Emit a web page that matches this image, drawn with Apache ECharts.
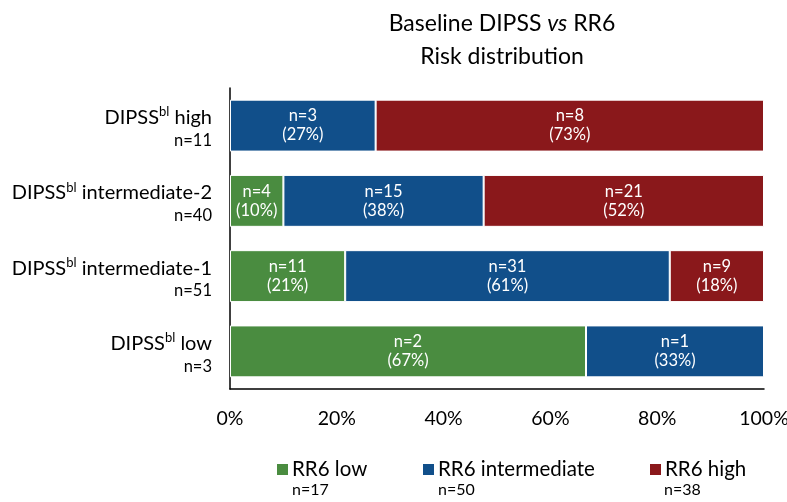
<!DOCTYPE html>
<html><head><meta charset="utf-8">
<script src="https://cdn.jsdelivr.net/npm/echarts@6/dist/echarts.min.js"></script>
<style>html,body{margin:0;padding:0;background:#fff}#c{width:787px;height:502px}</style>
</head><body><div id="c"></div>
<script>
// categories bottom -> top
const catNames = ['low', 'intermediate-1', 'intermediate-2', 'high'];
const catTotals = [3, 51, 40, 11];
const seriesNames = ['RR6 low', 'RR6 intermediate', 'RR6 high'];
const seriesTotals = [17, 50, 38];
const lowCounts = [2, 11, 4, 0];
const intCounts = [1, 31, 15, 3];
const highCounts = [0, 9, 21, 8];
const pctLabels = [
  [67, 21, 10, null],
  [33, 61, 38, 27],
  [null, 18, 52, 73]
];
const xTicks = [0, 20, 40, 60, 80, 100];
const colors = ['#4a8c40', '#114f8a', '#8a181b'];

const FONT = 'Lato';
const countsAll = [lowCounts, intCounts, highCounts];

function buildSeries(si) {
  const counts = countsAll[si];
  return {
    name: seriesNames[si],
    type: 'bar',
    stack: 'all',
    barCategoryGap: '31%',
    itemStyle: { color: colors[si], borderColor: '#ffffff', borderWidth: 1 },
    label: {
      show: true,
      position: 'inside',
      color: '#ffffff',
      fontFamily: FONT,
      fontSize: 16.5,
      lineHeight: 19,
      formatter: p => 'n=' + counts[p.dataIndex] + '\n(' + pctLabels[si][p.dataIndex] + '%)'
    },
    data: counts.map((c, i) => c === 0 ? null : c / catTotals[i] * 100)
  };
}

const chart = echarts.init(document.getElementById('c'));
chart.setOption({
  backgroundColor: '#ffffff',
  animation: false,
  title: {
    left: 497, top: 2, textAlign: 'center',
    text: '{a|Baseline DIPSS }{i|vs}{a| RR6}\n{a|Risk distribution}',
    textStyle: {
      rich: {
        a: { fontFamily: FONT, fontSize: 23, fontWeight: 'normal', color: '#000', lineHeight: 33 },
        i: { fontFamily: FONT, fontSize: 23, fontWeight: 'normal', color: '#000', fontStyle: 'italic', lineHeight: 33 }
      }
    }
  },
  grid: { left: 230, right: 23, top: 88, bottom: 113, containLabel: false, outerBoundsMode: 'none' },
  xAxis: {
    type: 'value', min: 0, max: 100, interval: 20,
    axisLine: { show: true, lineStyle: { color: '#000', width: 1.5 } },
    axisTick: { show: false },
    splitLine: { show: false },
    axisLabel: { margin: 20, color: '#000', fontFamily: FONT, fontSize: 19.5, formatter: v => xTicks.includes(v) ? v + '%' : '' }
  },
  yAxis: {
    type: 'category',
    data: catNames,
    axisLine: { show: true, lineStyle: { color: '#000', width: 1.5 } },
    axisTick: { show: false },
    axisLabel: {
      margin: 18, align: 'right', padding: [6, 0, 0, 0],
      formatter: (v, i) => '{m|DIPSS}{s|bl}{m| ' + v + '}\n{n|n=' + catTotals[i] + '}',
      rich: {
        m: { fontFamily: FONT, fontSize: 20, color: '#000', lineHeight: 24, align: 'right' },
        s: { fontFamily: FONT, fontSize: 13, color: '#000', verticalAlign: 'top', lineHeight: 24, padding: [0, 0, 7, 0], align: 'right' },
        n: { fontFamily: FONT, fontSize: 16.5, color: '#000', lineHeight: 22, align: 'right' }
      }
    }
  },
  legend: [0, 1, 2].map(i => ({
    data: [seriesNames[i]],
    left: [275, 421, 648][i], top: 459, padding: 0,
    itemWidth: 13, itemHeight: 13, itemGap: 0,
    icon: 'rect',
    textStyle: { fontFamily: FONT, fontSize: 20.5, color: '#000', padding: [0, 0, 0, -2] }
  })),
  graphic: [0, 1, 2].map(i => ({
    type: 'text',
    left: [292, 438, 664][i], top: 482,
    style: { text: 'n=' + seriesTotals[i], fontFamily: FONT, fontSize: 16, fill: '#000' }
  })),
  series: [0, 1, 2].map(buildSeries)
});
</script></body></html>
